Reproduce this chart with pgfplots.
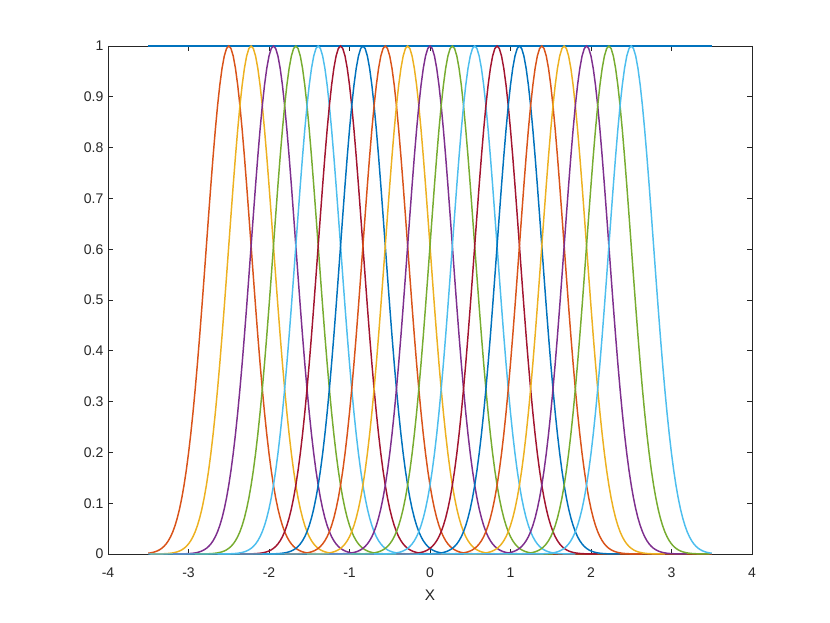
\documentclass[border=0pt]{standalone}
\usepackage{fontspec}
\setmainfont{Liberation Sans}
\usepackage{pgfplots}
\usepackage{pgfplotstable}
\pgfplotsset{compat=1.18}

\definecolor{mblue}{rgb}{0,0.447,0.741}
\definecolor{morange}{rgb}{0.85,0.325,0.098}
\definecolor{myellow}{rgb}{0.929,0.694,0.125}
\definecolor{mpurple}{rgb}{0.494,0.184,0.556}
\definecolor{mgreen}{rgb}{0.466,0.674,0.188}
\definecolor{mlblue}{rgb}{0.301,0.745,0.933}
\definecolor{mred}{rgb}{0.635,0.078,0.184}
\definecolor{axgray}{rgb}{0.15,0.15,0.15}

\pgfplotscreateplotcyclelist{matlab}{%
  {mblue,line width=1.1pt},{morange,line width=1.1pt},{myellow,line width=1.1pt},
  {mpurple,line width=1.1pt},{mgreen,line width=1.1pt},{mlblue,line width=1.1pt},
  {mred,line width=1.1pt}}

% one bump, sampled at offsets j/36 from its centre (spacing of centres = 10/36)
\pgfplotstableread{
j y
-216 0
-45 0.00004
-44 0.00006
-43 0.00010
-42 0.00015
-41 0.00022
-40 0.00034
-39 0.00050
-38 0.00073
-37 0.00106
-36 0.00154
-35 0.00219
-34 0.00309
-33 0.00432
-32 0.00598
-31 0.00819
-30 0.01111
-29 0.01492
-28 0.01984
-27 0.02612
-26 0.03405
-25 0.04394
-24 0.05613
-23 0.07101
-22 0.08892
-21 0.11025
-20 0.13534
-19 0.16447
-18 0.19790
-17 0.23574
-16 0.27804
-15 0.32465
-14 0.37531
-13 0.42956
-12 0.48675
-11 0.54607
-10 0.60653
-9 0.66698
-8 0.72615
-7 0.78270
-6 0.83527
-5 0.88250
-4 0.92312
-3 0.95600
-2 0.98020
-1 0.99501
0 1
1 0.99501
2 0.98020
3 0.95600
4 0.92312
5 0.88250
6 0.83527
7 0.78270
8 0.72615
9 0.66698
10 0.60653
11 0.54607
12 0.48675
13 0.42956
14 0.37531
15 0.32465
16 0.27804
17 0.23574
18 0.19790
19 0.16447
20 0.13534
21 0.11025
22 0.08892
23 0.07101
24 0.05613
25 0.04394
26 0.03405
27 0.02612
28 0.01984
29 0.01492
30 0.01111
31 0.00819
32 0.00598
33 0.00432
34 0.00309
35 0.00219
36 0.00154
37 0.00106
38 0.00073
39 0.00050
40 0.00034
41 0.00022
42 0.00015
43 0.00010
44 0.00006
45 0.00004
216 0
}\bump

\begin{document}
\begin{tikzpicture}
\path[use as bounding box] (0,0) rectangle (622.5pt,467.25pt);
\begin{axis}[
    at={(81pt,51.75pt)}, anchor=south west,
    scale only axis,
    width=483pt, height=381pt,
    xmin=-4, xmax=4,
    ymin=0, ymax=1,
    xtick={-4,-3,...,4},
    ytick={0,0.1,...,1},
    yticklabel style={/pgf/number format/fixed},
    xticklabel style={yshift=-7pt},
    /pgf/number format/assume math mode=true,
    tick align=inside,
    major tick length=4pt,
    axis line style={axgray, line width=0.5pt},
    every tick/.style={axgray, line width=0.5pt},
    tick label style={font=\fontsize{10.5}{12}\selectfont, text=axgray},
    xlabel={X},
    xlabel style={font=\fontsize{11.5}{13}\selectfont, text=axgray, yshift=-2pt},
    cycle list name=matlab,
    restrict x to domain=-3.5001:3.5001,
    clip=false,
]
\addplot coordinates {(-3.5,1) (3.5,1)};
\pgfplotsinvokeforeach{0,...,18}{
  \addplot table[x expr={(\thisrow{j}+10*#1)/36-2.5}, y=y] {\bump};
}
\end{axis}
\end{tikzpicture}
\end{document}
